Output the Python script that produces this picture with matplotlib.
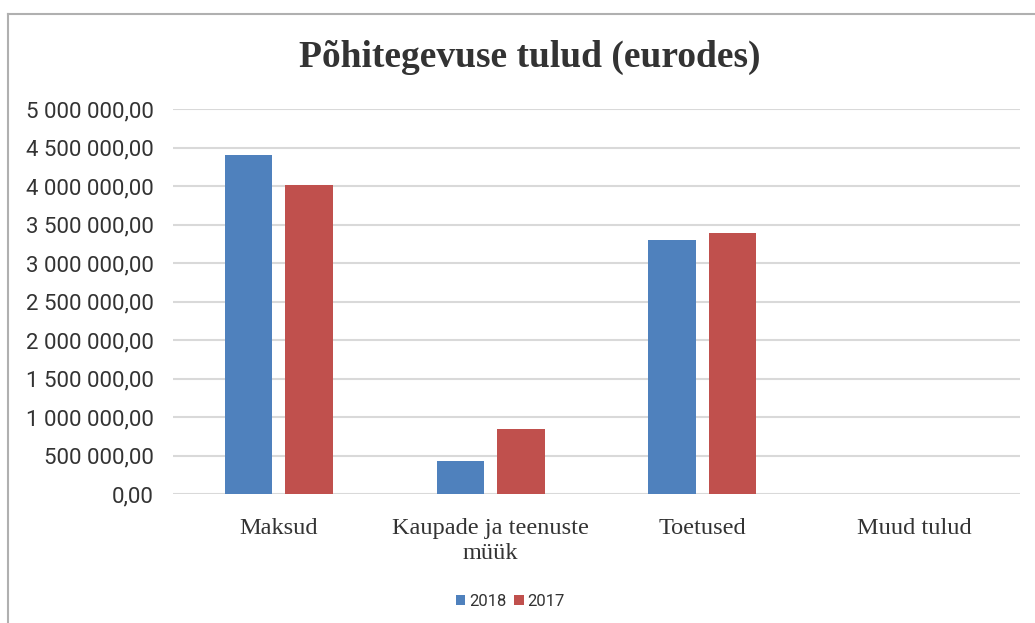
import numpy as np
import matplotlib
matplotlib.use('Agg')
import matplotlib.pyplot as plt
from matplotlib.lines import Line2D
from matplotlib.ticker import FuncFormatter

categories = ['Maksud', 'Kaupade ja teenuste\nmüük', 'Toetused', 'Muud tulud']
series_names = ['2018', '2017']
values_2018 = [4404000, 427000, 3303000, 0]
values_2017 = [4016000, 842000, 3394000, 0]
colors = ['#4F81BD', '#C0504D']

sans = ['Roboto', 'DejaVu Sans']
serif = ['Liberation Serif', 'DejaVu Serif']


def eur(v, pos):
    s = '{:,.2f}'.format(v)
    return s.replace(',', ' ').replace('.', ',')


fig = plt.figure(figsize=(10.35, 6.23), dpi=100, facecolor='white')
ax = fig.add_axes([0.167, 0.207, 0.8185, 0.618])

x = np.arange(len(categories))
bw = 0.224
off = 0.143
ax.bar(x - off, values_2018, bw, color=colors[0], label=series_names[0], zorder=3)
ax.bar(x + off, values_2017, bw, color=colors[1], label=series_names[1], zorder=3)

ax.set_xlim(-0.5, len(categories) - 0.5)
ax.set_ylim(0, 5000000)
ax.set_yticks(np.arange(0, 5000001, 500000))
ax.yaxis.set_major_formatter(FuncFormatter(eur))
ax.grid(axis='y', color='#d9d9d9', linewidth=1.5, zorder=0)
for s in ax.spines.values():
    s.set_visible(False)
ax.tick_params(axis='both', length=0)
ax.tick_params(axis='y', pad=14, labelsize=16, labelcolor='#333333')
ax.tick_params(axis='x', pad=17, labelcolor='#333333')
ax.set_xticks(x)
ax.set_xticklabels(categories, family=serif, fontsize=17.5, linespacing=1.3)
for lab in ax.get_yticklabels():
    lab.set_family(sans)

fig.text(0.512, 0.908, 'Põhitegevuse tulud (eurodes)', ha='center', va='center',
         family=serif, fontsize=27, fontweight='bold', color='#333333')

leg = fig.legend(loc='center', bbox_to_anchor=(0.493, 0.035), ncol=2, frameon=False,
                 prop={'family': sans, 'size': 12}, handlelength=0.55, handleheight=0.55,
                 handletextpad=0.2, columnspacing=0.5)
for t in leg.get_texts():
    t.set_color('#333333')

# chart frame (only top and left edge visible in the source)
fig.add_artist(Line2D([8 / 1035, 1], [1 - 14 / 623] * 2, color='#b0b0b0', lw=1.5,
                      transform=fig.transFigure))
fig.add_artist(Line2D([8 / 1035] * 2, [0, 1 - 14 / 623], color='#b0b0b0', lw=1.5,
                      transform=fig.transFigure))

plt.savefig('out.png', dpi=100, facecolor='white')
